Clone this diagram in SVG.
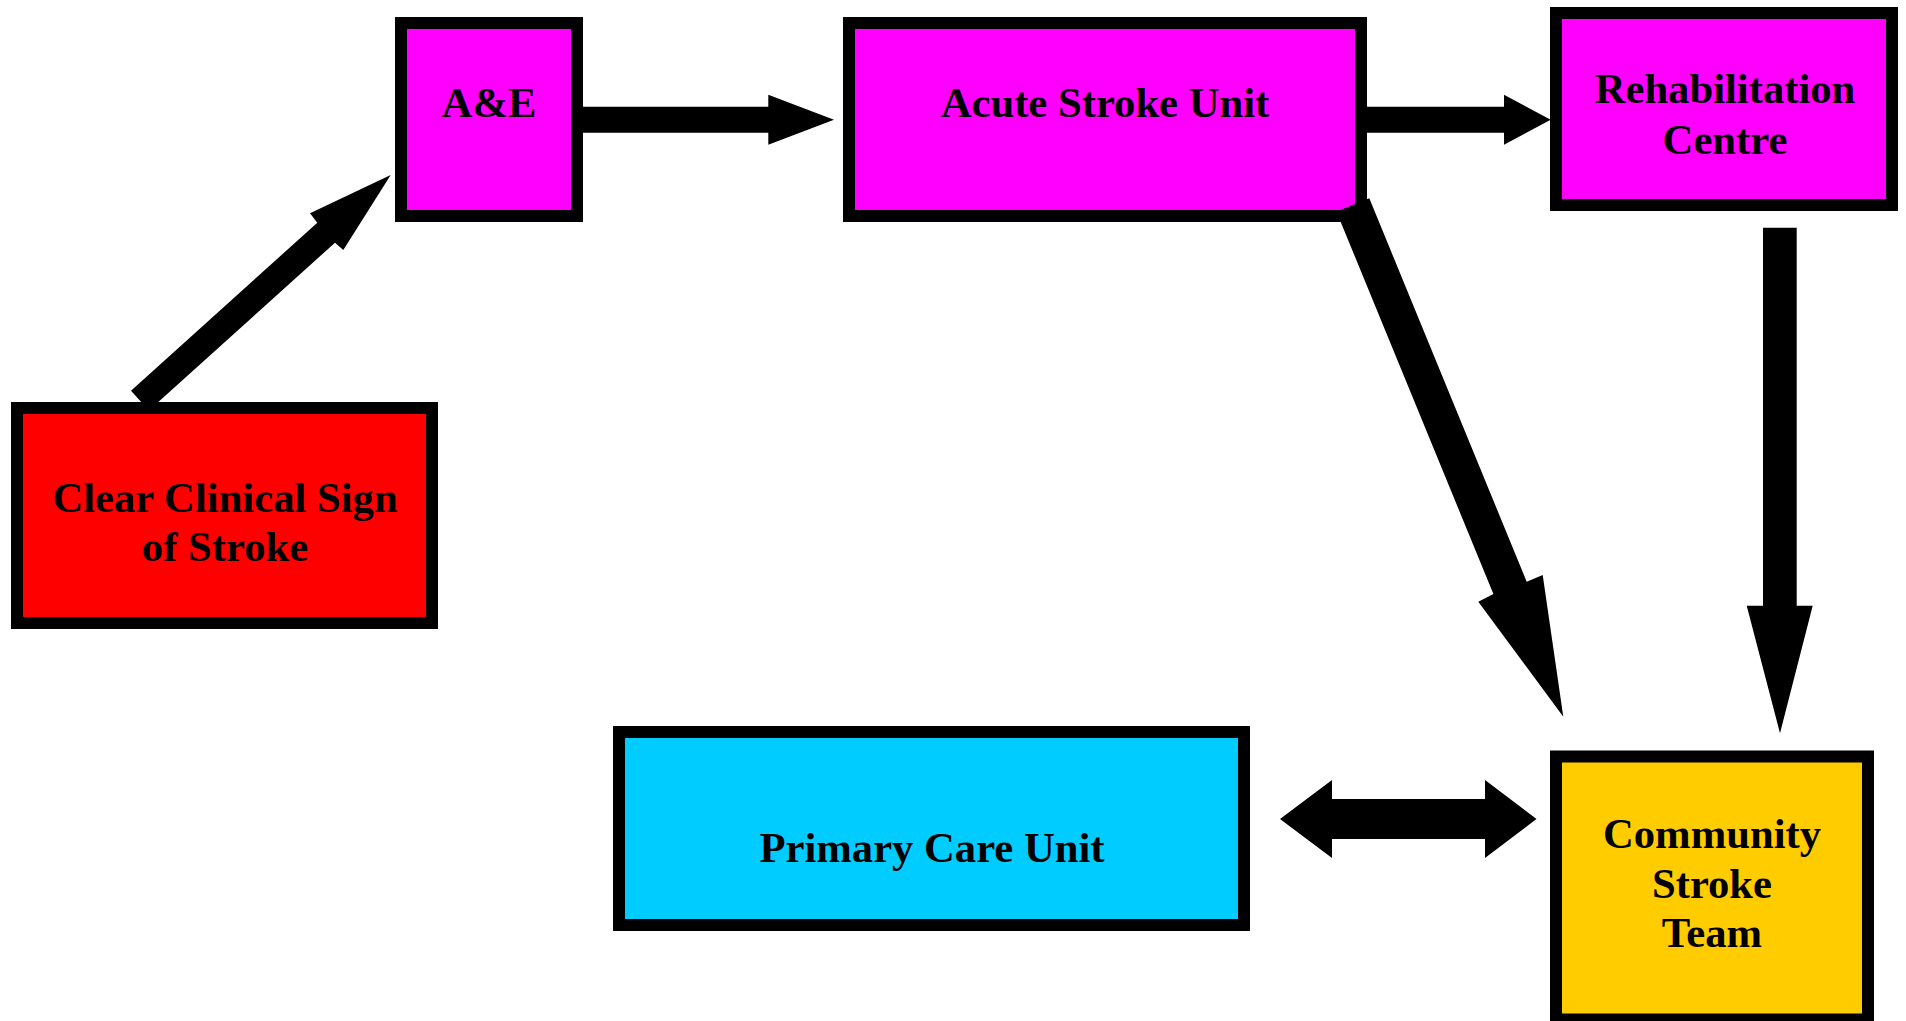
<svg xmlns="http://www.w3.org/2000/svg" width="1906" height="1021" viewBox="0 0 1906 1021">
<style>
.box{stroke:#000;stroke-width:12}
.mag{fill:#FF00FF}
.red{fill:#FF0000}
.cyan{fill:#00CCFF}
.gold{fill:#FFCC00}
.lbl{font-family:"Liberation Serif","Times New Roman",serif;font-weight:bold;font-size:42.67px;fill:#000;text-anchor:middle}
.arr{fill:#000;stroke:none}
</style>
<rect width="1906" height="1021" fill="#fff"/>
<g id="node-ae">
<rect class="box mag" x="401" y="23" width="176" height="193"/>
<text class="lbl" x="489" y="117">A&amp;E</text>
</g>
<g id="node-asu">
<rect class="box mag" x="849" y="23" width="512" height="193"/>
<text class="lbl" x="1105" y="117">Acute Stroke Unit</text>
</g>
<g id="node-rehab">
<rect class="box mag" x="1556" y="13" width="336" height="192"/>
<text class="lbl" x="1725" y="103">Rehabilitation</text>
<text class="lbl" x="1725" y="154">Centre</text>
</g>
<g id="node-clear">
<rect class="box red" x="17" y="408" width="415" height="215"/>
<text class="lbl" x="225" y="512">Clear Clinical Sign</text>
<text class="lbl" x="225" y="561">of Stroke</text>
</g>
<g id="node-primary">
<rect class="box cyan" x="619" y="732" width="625" height="193"/>
<text class="lbl" x="932" y="862">Primary Care Unit</text>
</g>
<g id="node-cst">
<rect class="box gold" x="1556" y="756.5" width="312" height="263"/>
<text class="lbl" x="1712" y="848">Community</text>
<text class="lbl" x="1712" y="898">Stroke</text>
<text class="lbl" x="1712" y="947">Team</text>
</g>
<g id="connectors">
<polygon class="arr" points="131,390.7 141.2,402 158.3,402 335,242.7 343.3,250 390.7,175 310,213.3 317.3,222.7"/>
<polygon class="arr" points="583,106.7 768.3,106.7 768.3,94.7 834,119.7 768.3,144.7 768.3,132.7 583,132.7"/>
<polygon class="arr" points="1367,106.7 1504,106.7 1504,94.7 1550.7,119.7 1504,144.7 1504,132.7 1367,132.7"/>
<polygon class="arr" points="1369.3,198.3 1526.7,581.7 1542.7,575 1563.3,716.7 1478.3,601.7 1493.4,594 1336.5,211.7"/>
<polygon class="arr" points="1763,227.7 1796.7,227.7 1796.7,605.7 1812.7,605.7 1780,733.3 1746.7,605.7 1763,605.7"/>
<polygon class="arr" points="1280,819 1332,780 1332,799 1485,799 1485,780 1536.5,819 1485,858 1485,839 1332,839 1332,858"/>
</g>
</svg>
